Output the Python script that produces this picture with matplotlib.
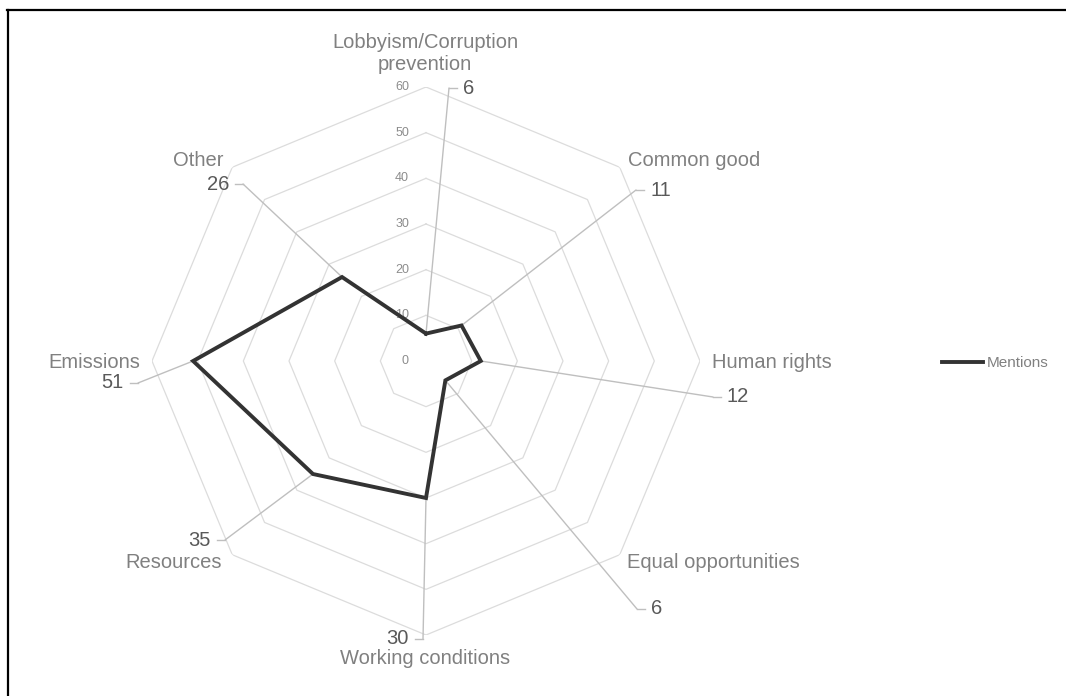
import numpy as np
import matplotlib
matplotlib.use("Agg")
import matplotlib.pyplot as plt
from matplotlib.lines import Line2D

plt.rcParams['font.family'] = ['Liberation Sans', 'DejaVu Sans']

# ---------------- data ----------------
categories = ["Lobbyism/Corruption\nprevention", "Common good", "Human rights",
              "Equal opportunities", "Working conditions", "Resources",
              "Emissions", "Other"]
values = [6, 11, 12, 6, 30, 35, 51, 26]
series_name = "Mentions"
r_ticks = [0, 10, 20, 30, 40, 50, 60]

# ---------------- layout (pixels, top-left origin) ----------------
W, H = 1066, 696
CX, CY, RAD = 426, 361, 274  # centre of radar and radius for r=60

# category label anchor (x, y, ha)
cat_pos = [(425, 54, 'center'), (628, 160, 'left'), (712, 363, 'left'),
           (627, 563, 'left'), (425, 659, 'center'), (222, 563, 'right'),
           (140, 362, 'right'), (223, 160, 'right')]
# leader elbow (x, y), tick direction (+1 right / -1 left)
elbow = [(449, 88, 1), (636, 190, 1), (713, 397, 1), (637, 609, 1),
         (423, 639, -1), (225, 540, -1), (138, 383, -1), (243, 184, -1)]

fig = plt.figure(figsize=(W / 100, H / 100), dpi=100)
fig.patch.set_facecolor('white')

ax = fig.add_axes([(CX - RAD) / W, (H - CY - RAD) / H, 2 * RAD / W, 2 * RAD / H],
                  projection='polar')
ax.set_theta_zero_location('N')
ax.set_theta_direction(-1)
ax.set_ylim(0, max(r_ticks))
ax.grid(False)
ax.spines['polar'].set_visible(False)
ax.set_xticks([])
ax.set_yticks([])
ax.patch.set_alpha(0)

n = len(categories)
angles = [i * 2 * np.pi / n for i in range(n)]
closed_angles = angles + [angles[0]]

# octagonal grid
for r in r_ticks[1:]:
    ax.plot(closed_angles, [r] * (n + 1), color='#dcdcdc', lw=0.9, zorder=1)

# radial tick labels
for r in r_ticks:
    ax.annotate(str(r), xy=(0, r), xytext=(-17, 0), textcoords='offset pixels',
                ha='right', va='center', fontsize=9, color='#8c8c8c', zorder=2)

# leader lines + value labels
def fpx(x, y):
    return (x, H - y)

for ang, v, (ex, ey, d) in zip(angles, values, elbow):
    ax.annotate('', xy=(ang, v), xycoords='data',
                xytext=fpx(ex, ey), textcoords='figure pixels',
                arrowprops=dict(arrowstyle='-', color='#bfbfbf', lw=1.0,
                                shrinkA=0, shrinkB=0), zorder=2)
    fig.add_artist(Line2D([ex / W, (ex + 8 * d) / W], [(H - ey) / H, (H - ey) / H],
                          color='#bfbfbf', lw=1.0))
    fig.text((ex + 14 * d) / W, (H - ey) / H, str(v), ha='left' if d > 0 else 'right',
             va='center', fontsize=14.5, color='#595959')

# category labels
for lab, (x, y, ha) in zip(categories, cat_pos):
    fig.text(x / W, (H - y) / H, lab, ha=ha, va='center', fontsize=14.5,
             color='#808080', linespacing=1.2, multialignment='center')

# data line
ax.plot(closed_angles, values + [values[0]], color='#333333', lw=2.8, zorder=5,
        solid_joinstyle='miter', label=series_name)

# legend
fig.legend(handles=[Line2D([0], [0], color='#333333', lw=2.8)], labels=[series_name],
           loc='center left', bbox_to_anchor=(942 / W, (H - 363) / H),
           frameon=False, fontsize=11, labelcolor='#808080',
           handlelength=2.7, handletextpad=0.25, borderpad=0, borderaxespad=0)

# figure border (top and left)
fig.add_artist(Line2D([7 / W, 1.0], [(H - 10) / H, (H - 10) / H], color='black', lw=1.6))
fig.add_artist(Line2D([8 / W, 8 / W], [0, (H - 10) / H], color='black', lw=1.6))

fig.savefig('out.png', dpi=100)
